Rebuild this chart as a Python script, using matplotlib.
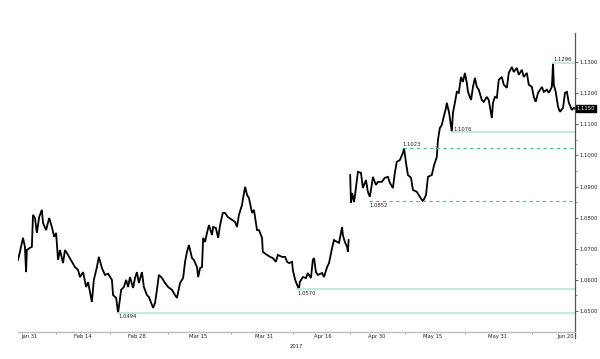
import numpy as np
from matplotlib import pyplot as plt

# EUR/USD, time in days from Jan 31
t1 = [-2.6, -2.1, -1.3, -0.8, -0.5, -0.3, 0.5, 1.0, 1.3, 1.8,
      2.3, 2.9, 3.6, 3.9, 4.7, 5.5, 6.2, 6.8, 7.3, 7.8,
      8.3, 9.1, 9.6, 10.4, 11.4, 12.2, 13.0, 13.5, 14.3, 15.1,
      15.6, 16.6, 17.1, 17.9, 18.4, 19.2, 20.0, 20.8, 21.8, 22.1,
      22.9, 23.4, 24.2, 24.9, 25.5, 26.0, 26.5, 27.3, 27.8, 28.3,
      28.8, 29.6, 30.1, 30.9, 31.4, 32.5, 33.0, 33.5, 34.0, 34.8,
      35.6, 36.4, 37.4, 38.2, 38.7, 39.5, 40.3, 40.8, 41.3, 41.8,
      42.6, 43.1, 43.9, 44.2, 44.7, 45.2, 45.5, 46.0, 46.5, 47.0,
      47.8, 48.1, 48.8, 49.4, 49.9, 50.6, 51.2, 51.9, 53.0, 53.8,
      54.3, 54.8, 55.6, 55.8, 56.4, 56.9, 57.4, 58.2, 58.7, 59.5,
      60.0, 60.8, 61.0, 62.1, 62.9, 63.6, 64.4, 64.9, 66.0, 66.8,
      67.3, 67.8, 68.6, 68.8, 69.4, 69.9, 70.4, 70.6, 71.4, 72.2,
      72.7, 73.5, 74.0, 74.3, 74.8, 75.3, 76.4, 76.9, 77.7, 78.2,
      79.0, 79.5, 80.3, 80.8, 81.6, 81.8, 82.3, 82.9, 83.1, 83.3]
p1 = [1.0664, 1.0690, 1.0735, 1.0706, 1.0625, 1.0696, 1.0703, 1.0706, 1.0809, 1.0799,
      1.0751, 1.0802, 1.0825, 1.0783, 1.0760, 1.0799, 1.0770, 1.0738, 1.0751, 1.0664,
      1.0696, 1.0654, 1.0696, 1.0680, 1.0658, 1.0641, 1.0632, 1.0609, 1.0625, 1.0577,
      1.0593, 1.0529, 1.0600, 1.0641, 1.0674, 1.0638, 1.0616, 1.0620, 1.0600, 1.0551,
      1.0542, 1.0494, 1.0568, 1.0577, 1.0600, 1.0577, 1.0609, 1.0574, 1.0606, 1.0625,
      1.0590, 1.0625, 1.0577, 1.0551, 1.0545, 1.0510, 1.0526, 1.0568, 1.0616, 1.0606,
      1.0590, 1.0577, 1.0568, 1.0551, 1.0542, 1.0590, 1.0606, 1.0658, 1.0690, 1.0712,
      1.0670, 1.0664, 1.0641, 1.0609, 1.0638, 1.0641, 1.0735, 1.0722, 1.0751, 1.0776,
      1.0744, 1.0770, 1.0767, 1.0735, 1.0776, 1.0815, 1.0815, 1.0802, 1.0793, 1.0786,
      1.0770, 1.0809, 1.0841, 1.0857, 1.0899, 1.0873, 1.0863, 1.0815, 1.0825, 1.0760,
      1.0760, 1.0735, 1.0690, 1.0680, 1.0674, 1.0670, 1.0658, 1.0680, 1.0674, 1.0674,
      1.0658, 1.0654, 1.0658, 1.0632, 1.0600, 1.0584, 1.0570, 1.0593, 1.0609, 1.0606,
      1.0622, 1.0606, 1.0664, 1.0670, 1.0625, 1.0616, 1.0622, 1.0609, 1.0641, 1.0654,
      1.0703, 1.0728, 1.0722, 1.0719, 1.0770, 1.0744, 1.0722, 1.0706, 1.0690, 1.0728]

# after the weekend gap (French election)
t2 = [83.7, 83.9, 84.2, 84.7, 84.9, 85.7, 86.5, 87.0, 87.8, 88.3,
      88.8, 89.4, 89.6, 90.4, 90.9, 91.9, 92.7, 93.5, 94.0, 94.8,
      95.3, 95.8, 96.6, 97.4, 97.7, 98.2, 98.7, 99.5, 100.0, 101.0,
      101.8, 102.6, 103.4, 103.9, 104.9, 105.5, 106.2, 106.5, 107.0, 107.5,
      107.8, 108.6, 108.8, 109.4, 110.1, 110.4, 110.9, 111.4, 111.9, 112.5,
      113.0, 113.5, 114.0, 114.3, 115.1, 115.6, 116.1, 116.6, 117.1, 117.9,
      118.4, 119.2, 119.7, 120.5, 120.8, 121.3, 121.8, 122.3, 123.1, 123.6,
      124.4, 124.9, 125.7, 126.2, 127.0, 127.5, 128.3, 128.8, 129.6, 130.1,
      130.9, 131.4, 131.9, 132.5, 133.5, 134.0, 134.8, 135.3, 136.1, 136.4,
      136.6, 137.1, 137.7, 138.2, 139.0, 139.5, 140.0, 140.5, 141.3, 141.8,
      142.1]
p2 = [1.0937, 1.0847, 1.0879, 1.0850, 1.0867, 1.0947, 1.0944, 1.0895, 1.0921, 1.0883,
      1.0867, 1.0912, 1.0931, 1.0905, 1.0915, 1.0915, 1.0928, 1.0931, 1.0912, 1.0895,
      1.0944, 1.0979, 1.0985, 1.1008, 1.1023, 1.0976, 1.0937, 1.0928, 1.0889, 1.0883,
      1.0867, 1.0852, 1.0873, 1.0931, 1.0937, 1.0969, 1.0995, 1.1050, 1.1088, 1.1098,
      1.1114, 1.1153, 1.1169, 1.1137, 1.1076, 1.1137, 1.1169, 1.1204, 1.1201, 1.1252,
      1.1236, 1.1265, 1.1233, 1.1204, 1.1178, 1.1220, 1.1249, 1.1220, 1.1211, 1.1178,
      1.1172, 1.1188, 1.1178, 1.1120, 1.1169, 1.1188, 1.1185, 1.1243, 1.1252, 1.1227,
      1.1217, 1.1265, 1.1284, 1.1268, 1.1281, 1.1259, 1.1275, 1.1252, 1.1265, 1.1227,
      1.1220, 1.1188, 1.1172, 1.1201, 1.1220, 1.1204, 1.1211, 1.1201, 1.1220, 1.1296,
      1.1227, 1.1204, 1.1156, 1.1140, 1.1153, 1.1201, 1.1204, 1.1169, 1.1146, 1.1153,
      1.1150]

# marked levels: value, where it starts, line style, label side
levels = [1.0494, 1.0570, 1.0852, 1.1023, 1.1076, 1.1296]
level_start = [23.4, 69.9, 88.6, 97.4, 110.1, 136.4]
level_dashed = [False, False, True, True, False, False]
level_label = ["below", "below", "below", "above", "right", "above"]
last_price = 1.1150

tick_pos = [0.3, 14.3, 28.3, 44.2, 61.3, 76.6, 90.6, 105.2, 122.1, 139.7]
tick_labels = ["Jan 31", "Feb 14", "Feb 28", "Mar 15", "Mar 31",
               "Apr 16", "Apr 30", "May 15", "May 31", "Jun 20"]
yticks = [1.05, 1.06, 1.07, 1.08, 1.09, 1.10, 1.11, 1.12, 1.13]

fs = 3.8
fig = plt.figure(figsize=(6, 3.59), dpi=100)
ax = fig.add_axes([0.03, 0.0752, 0.9283, 0.8328])

ax.plot(t1, p1, color="black", linewidth=1.3, solid_joinstyle="miter")
ax.plot(t2, p2, color="black", linewidth=1.3, solid_joinstyle="miter")

xmax = 142.1
for lv, st, dash, side in zip(levels, level_start, level_dashed, level_label):
    if dash:
        ax.plot([st, xmax], [lv, lv], color="#4fb892", linewidth=0.8, linestyle=(0, (3, 3)))
    else:
        ax.plot([st, xmax], [lv, lv], color="#bfe6d8", linewidth=1.3)
    txt = "%.4f" % lv
    if side == "below":
        ax.annotate(txt, (st, lv), xytext=(0.5, -1), textcoords="offset points",
                    ha="left", va="top", fontsize=fs, color="#222")
    elif side == "above":
        ax.annotate(txt, (st, lv), xytext=(0, 1), textcoords="offset points",
                    ha="left", va="bottom", fontsize=fs, color="#222")
    else:
        ax.annotate(txt, (st, lv), xytext=(1.2, 1.5), textcoords="offset points",
                    ha="left", va="center", fontsize=fs, color="#222")

ax.set_xlim(-2.6, xmax)
ax.set_ylim(1.04325, 1.13932)

for s in ["top", "left"]:
    ax.spines[s].set_visible(False)
ax.spines["right"].set_color("#555555")
ax.spines["right"].set_linewidth(0.9)
ax.spines["right"].set_bounds(1.0414, 1.13932)
ax.spines["bottom"].set_color("#bbbbbb")
ax.spines["bottom"].set_linewidth(1.0)

ax.yaxis.tick_right()
ax.set_yticks(yticks)
ax.set_yticklabels(["%.4f" % v for v in yticks])
ax.set_yticks(np.array(yticks[:-1]) + 0.005, minor=True)
ax.tick_params(axis="y", which="major", direction="out", length=2.2, width=0.6,
               color="#444", labelsize=fs, pad=1, labelcolor="#222")
ax.tick_params(axis="y", which="minor", direction="out", length=1.2, width=0.5, color="#666")

ax.set_xticks(tick_pos)
ax.set_xticklabels(tick_labels)
mids = [(a + b) / 2 for a, b in zip(tick_pos[:-1], tick_pos[1:])]
ax.set_xticks(mids, minor=True)
ax.tick_params(axis="x", which="major", length=0, labelsize=fs, pad=1.5, labelcolor="#222")
ax.tick_params(axis="x", which="minor", direction="out", length=1.5, width=0.6, color="#888")

ax.text(1.003, last_price, "%.4f" % last_price, transform=ax.get_yaxis_transform(),
        ha="left", va="center", fontsize=fs, color="white",
        bbox=dict(boxstyle="square,pad=0.15", facecolor="black", edgecolor="black"))

fig.text(296 / 600, 1 - 346 / 359, "2017", ha="center", va="center", fontsize=fs, color="#222")

plt.savefig("out.png", dpi=100)
